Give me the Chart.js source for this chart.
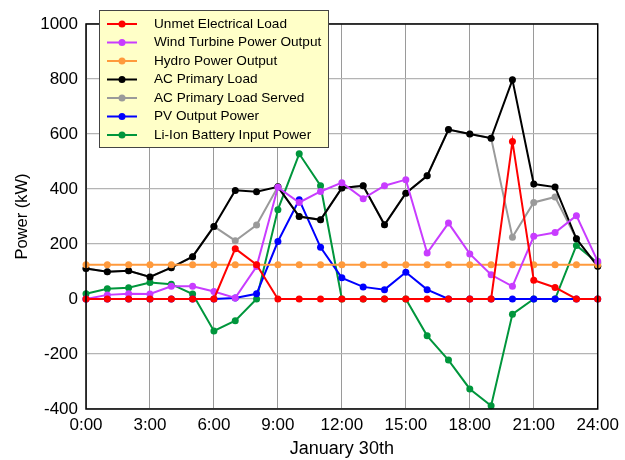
<!DOCTYPE html>
<html>
<head>
<meta charset="utf-8">
<script src="https://cdn.jsdelivr.net/npm/chart.js@4.4.1/dist/chart.umd.min.js"></script>
<style>
  html, body { margin: 0; padding: 0; background: #fff; }
</style>
</head>
<body>
<canvas id="chart" width="625" height="460"></canvas>
<script>
// hours of the day (x values)
const hours = [0,1,2,3,4,5,6,7,8,9,10,11,12,13,14,15,16,17,18,19,20,21,22,23,24];
const xTickValues = [0,3,6,9,12,15,18,21,24];
const xTickLabels = ['0:00','3:00','6:00','9:00','12:00','15:00','18:00','21:00','24:00'];

// series, kW
const unmetLoad    = [0,0,0,0,0,0,0,183,125,0,0,0,0,0,0,0,0,0,0,0,573,68,42,0,0];
const windOutput   = [0,15,19,18,46,46,27,4,118,406,351,391,423,365,412,434,167,276,164,88,46,228,242,303,137];
const hydroOutput  = [125,125,125,125,125,125,125,125,125,125,125,125,125,125,125,125,125,125,125,125,125,125,125,125,125];
const acLoad       = [111,99,103,80,114,154,264,395,390,408,300,288,404,412,270,385,448,616,600,585,797,418,407,219,119];
const acLoadServed = [111,99,103,80,114,154,264,212,269,408,300,288,404,412,270,385,448,616,600,585,225,351,371,219,119];
const pvOutput     = [0,0,0,0,0,0,0,4,19,209,361,188,77,44,34,97,34,0,0,0,0,0,0,0,0];
const batteryInput = [19,37,41,60,54,18,-116,-79,0,325,528,412,0,0,0,0,-134,-222,-327,-388,-55,0,0,195,131];

const series = [
  { label: 'Unmet Electrical Load', data: unmetLoad, color: '#ff0000' },
  { label: 'Wind Turbine Power Output', data: windOutput, color: '#c83cff' },
  { label: 'Hydro Power Output', data: hydroOutput, color: '#ff9a3c' },
  { label: 'AC Primary Load', data: acLoad, color: '#000000' },
  { label: 'AC Primary Load Served', data: acLoadServed, color: '#9a9a9a' },
  { label: 'PV Output Power', data: pvOutput, color: '#0000ff' },
  { label: 'Li-Ion Battery Input Power', data: batteryInput, color: '#00963c' }
];

const FONT = "'Liberation Sans', Arial, sans-serif";

// legend drawn inside the plot, plus the box frame around the chart area
const boxLegend = {
  id: 'boxLegend',
  afterDraw(chart) {
    const ctx = chart.ctx;
    const a = chart.chartArea;
    ctx.save();
    ctx.strokeStyle = '#000';
    ctx.lineWidth = 1.5;
    ctx.strokeRect(a.left, a.top, a.right - a.left, a.bottom - a.top);

    ctx.fillStyle = '#ffffc8';
    ctx.fillRect(99.5, 10.5, 229, 137);
    ctx.strokeStyle = '#444';
    ctx.lineWidth = 1;
    ctx.strokeRect(99.5, 10.5, 229, 137);

    ctx.font = '13.6px ' + FONT;
    ctx.textBaseline = 'middle';
    chart.data.datasets.forEach((ds, i) => {
      const y = 24 + i * 18.5;
      ctx.strokeStyle = ds.borderColor;
      ctx.lineWidth = 2;
      ctx.beginPath();
      ctx.moveTo(107, y);
      ctx.lineTo(137, y);
      ctx.stroke();
      ctx.fillStyle = ds.borderColor;
      ctx.beginPath();
      ctx.arc(122, y, 3.5, 0, Math.PI * 2);
      ctx.fill();
      ctx.fillStyle = '#000';
      ctx.fillText(ds.label, 154, y);
    });
    ctx.restore();
  }
};

new Chart(document.getElementById('chart').getContext('2d'), {
  type: 'line',
  data: {
    datasets: series.map(s => ({
      label: s.label,
      data: hours.map((h, i) => ({ x: h, y: s.data[i] })),
      borderColor: s.color,
      backgroundColor: s.color,
      borderWidth: 2,
      pointRadius: 3.5,
      pointBorderWidth: 0,
      tension: 0,
      clip: 8
    }))
  },
  options: {
    responsive: false,
    animation: false,
    layout: { padding: { top: 24, right: 25, left: 0, bottom: 0 } },
    plugins: {
      legend: { display: false },
      tooltip: { enabled: false }
    },
    scales: {
      x: {
        type: 'linear',
        min: 0,
        max: 24,
        afterBuildTicks: scale => { scale.ticks = xTickValues.map(v => ({ value: v })); },
        afterFit: scale => { scale.height = 51; },
        ticks: {
          color: '#000',
          font: { family: FONT, size: 17 },
          padding: 6,
          maxRotation: 0,
          callback: (v, i) => xTickLabels[i]
        },
        grid: { color: '#9a9a9a', lineWidth: 1, drawTicks: false },
        border: { display: false },
        title: {
          display: true,
          text: 'January 30th',
          color: '#000',
          font: { family: FONT, size: 18 },
          padding: { top: 0, bottom: 0 }
        }
      },
      y: {
        min: -400,
        max: 1000,
        afterFit: scale => { scale.width = 86; },
        ticks: {
          stepSize: 200,
          color: '#000',
          font: { family: FONT, size: 17 },
          padding: 8,
          callback: v => String(v)
        },
        grid: { color: '#b4b4b4', lineWidth: 1.3, drawTicks: false },
        border: { display: false },
        title: {
          display: true,
          text: 'Power (kW)',
          color: '#000',
          font: { family: FONT, size: 16.5 },
          padding: { top: 13, bottom: 0 }
        }
      }
    }
  },
  plugins: [boxLegend]
});
</script>
</body>
</html>
